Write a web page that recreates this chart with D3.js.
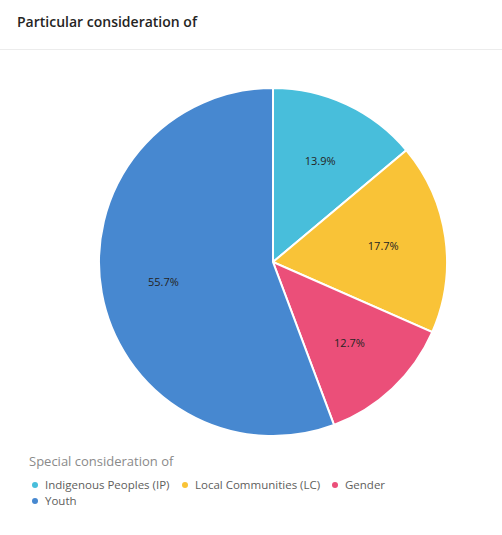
<!DOCTYPE html>
<html>
<head>
<meta charset="utf-8">
<script src="https://cdn.jsdelivr.net/npm/d3@7"></script>
<style>
  body { margin: 0; background: #fff; }
  svg text { font-family: "Open Sans", "Noto Sans", sans-serif; }
</style>
</head>
<body>
<div id="vis"></div>
<script>
// Declare constants for frame
const FRAME_WIDTH = 502;
const FRAME_HEIGHT = 535;
const CENTER = {x: 273, y: 262};
const RADIUS = 174;

// chart data
const CATEGORIES = ["Indigenous Peoples (IP)", "Local Communities (LC)", "Gender", "Youth"];
const VALUES = [13.9, 17.7, 12.7, 55.7];
const COLORS = ["#48bedb", "#f9c337", "#eb4f79", "#4788d0"];

const FRAME = d3.select("#vis")
                .append("svg")
                  .attr("width", FRAME_WIDTH)
                  .attr("height", FRAME_HEIGHT);

// header
FRAME.append("text")
      .attr("x", 17)
      .attr("y", 27)
      .attr("font-size", "14px")
      .attr("font-weight", 600)
      .attr("fill", "#252423")
      .text("Particular consideration of");

FRAME.append("line")
      .attr("x1", 0).attr("x2", FRAME_WIDTH)
      .attr("y1", 49.5).attr("y2", 49.5)
      .attr("stroke", "#ececec");

const data = CATEGORIES.map((c, i) => ({name: c, value: VALUES[i], color: COLORS[i]}));

const pie = d3.pie().sort(null).value(d => d.value);
const arc = d3.arc().innerRadius(0).outerRadius(RADIUS);
const labelArc = d3.arc().innerRadius(RADIUS * 0.64).outerRadius(RADIUS * 0.64);

const G = FRAME.append("g")
      .attr("transform", "translate(" + CENTER.x + "," + CENTER.y + ")");

G.selectAll("path")
  .data(pie(data))
  .enter()
  .append("path")
    .attr("d", arc)
    .attr("fill", d => d.data.color)
    .attr("stroke", "#fff")
    .attr("stroke-width", 2);

G.selectAll(".lbl")
  .data(pie(data))
  .enter()
  .append("text")
    .attr("class", "lbl")
    .attr("transform", d => "translate(" + labelArc.centroid(d) + ")")
    .attr("text-anchor", "middle")
    .attr("dy", "0.35em")
    .attr("font-size", "11px")
    .attr("fill", "#252423")
    .text(d => d.data.value.toFixed(1) + "%");

// legend
FRAME.append("text")
      .attr("x", 29)
      .attr("y", 466)
      .attr("font-size", "13px")
      .attr("fill", "#8a8a8a")
      .text("Special consideration of");

const LEGEND_X = [35, 185, 335, 35];
const LEGEND_Y = [485, 485, 485, 501];

const legend = FRAME.selectAll(".leg")
  .data(data)
  .enter()
  .append("g")
    .attr("class", "leg")
    .attr("transform", (d, i) => "translate(" + LEGEND_X[i] + "," + LEGEND_Y[i] + ")");

legend.append("circle")
  .attr("r", 3)
  .attr("fill", d => d.color);

legend.append("text")
  .attr("x", 10)
  .attr("dy", "0.35em")
  .attr("font-size", "11.5px")
  .attr("fill", "#605e5c")
  .text(d => d.name);
</script>
</body>
</html>
